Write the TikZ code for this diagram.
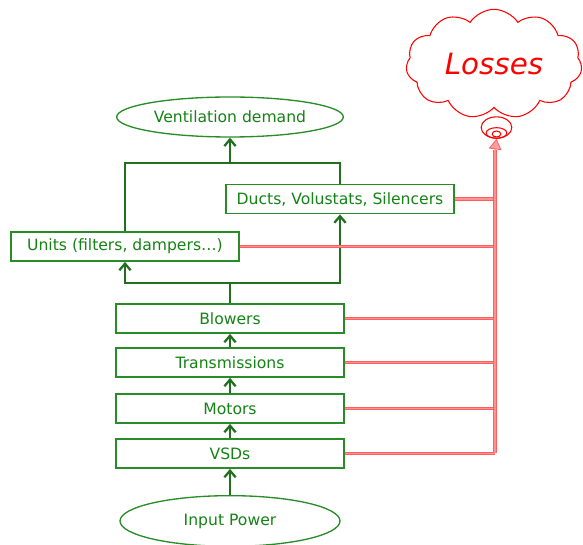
\documentclass[tikz,border=0pt]{standalone}
\usepackage{fontspec}
\setmainfont{DejaVu Sans}
\usetikzlibrary{shapes.geometric,shapes.symbols,arrows.meta}
\definecolor{gtxt}{RGB}{20,130,20}
\definecolor{gbox}{RGB}{40,140,40}
\definecolor{lred}{RGB}{255,40,40}
\tikzset{
  box/.style={draw=gbox, line width=1.1pt, text=gtxt, inner sep=0pt, minimum width=171pt, minimum height=22pt, font=\fontsize{11.7}{13}\selectfont},
  oval/.style={ellipse, draw=gbox, line width=1pt, text=gtxt, inner sep=0pt, font=\fontsize{11.7}{13}\selectfont},
  gline/.style={draw=gbox!80!black, line width=1.9pt},
  garrow/.style={gline, -{Straight Barb[length=5pt,width=8.5pt,line width=1.7pt]}},
  lossline/.style={draw=lred!75, line width=0.6pt, double=lred!50, double distance=1.3pt},
  losstip/.style={draw=lred!75, line width=0.6pt, -{Triangle[length=8pt,width=9.5pt,fill=lred!45]}},
}
\begin{document}
\begin{tikzpicture}[x=0.75pt,y=-0.75pt]
\useasboundingbox (0,0) rectangle (583,545);
% nodes
\node[oval, minimum width=170pt, minimum height=30pt] (vent) at (230,117) {Ventilation demand};
\node[box] (ducts) at (340,199) {Ducts, Volustats, Silencers};
\node[box] (units) at (125,246.5) {Units (filters, dampers\dots)};
\node[box] (blow) at (230,318.5) {Blowers};
\node[box] (trans) at (230,362.5) {Transmissions};
\node[box] (mot) at (230,408.5) {Motors};
\node[box] (vsd) at (230,453.5) {VSDs};
\node[oval, minimum width=165pt, minimum height=38pt] (inp) at (230,521) {Input Power};
% thought bubble
\node[ellipse, draw=red, line width=0.8pt, minimum width=23pt, minimum height=16pt, inner sep=0pt] (bub) at (496.5,127.5) {};
\node[cloud, cloud puffs=11, cloud puff arc=115, aspect=1.6, draw=red, fill=white, line width=0.8pt, minimum width=132pt, minimum height=82pt, inner sep=0pt, text=red, font=\fontsize{22}{24}\selectfont\itshape] (loss) at (494,64) {Losses};
\node[ellipse, draw=red, line width=0.8pt, minimum width=15.5pt, minimum height=8pt, inner sep=0pt] (bub2) at (496.5,133) {};
\node[ellipse, draw=red, line width=0.8pt, minimum width=6.5pt, minimum height=4.5pt, inner sep=0pt] (bub3) at (496.5,134) {};
% green flow
\coordinate (split) at (230,283);
\coordinate (merge) at (230,163);
\draw[garrow] (inp.north) -- (vsd.south);
\draw[garrow] (vsd.north) -- (mot.south);
\draw[garrow] (mot.north) -- (trans.south);
\draw[garrow] (trans.north) -- (blow.south);
\draw[gline] (blow.north) -- (split);
\draw[garrow] (split) -| (units.south);
\draw[garrow] (split) -| (ducts.south);
\draw[gline] (units.north) |- (merge);
\draw[gline] (ducts.north) |- (merge);
\draw[garrow] (merge) -- (vent.south);
% losses
\coordinate (trunk) at (495,453.5);
\coordinate (top) at (495,150);
\foreach \n in {vsd,mot,trans,blow,units,ducts}{
  \draw[lossline] (\n.east) -- (\n.east -| trunk);
}
\draw[lossline] (trunk) -- (top);
\draw[losstip] (top) -- (bub.south);
\end{tikzpicture}
\end{document}
